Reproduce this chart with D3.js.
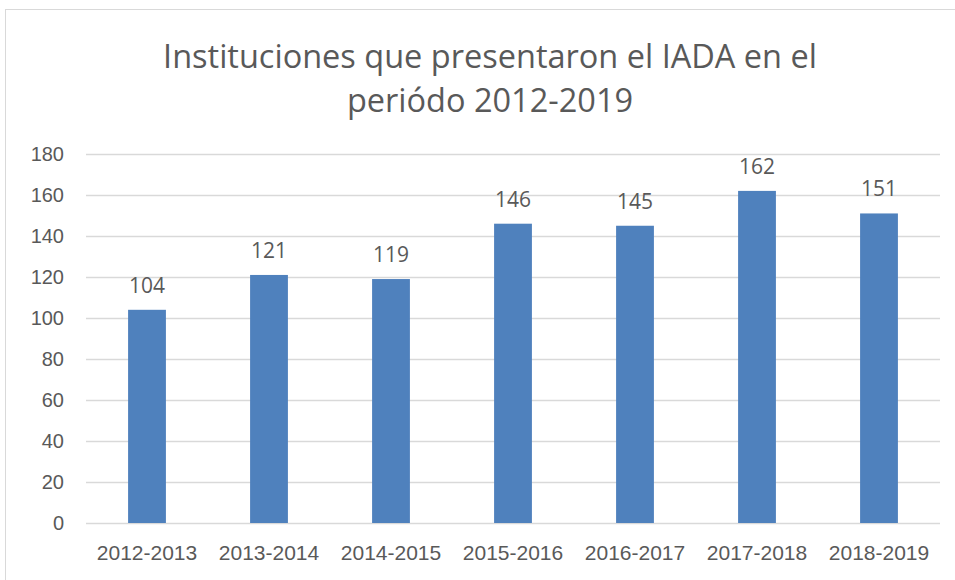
<!DOCTYPE html>
<html lang="es">
<head>
<meta charset="UTF-8">
<title>Instituciones que presentaron el IADA</title>
<script src="https://d3js.org/d3.v7.min.js"></script>
<style>
  body { margin: 0; background: #fff; font-family: "Open Sans", Arial, sans-serif; }
  svg text { fill: #595959; }
</style>
</head>
<body>
<svg width="955" height="580"></svg>
<script>
// datos
const periodos = ["2012-2013", "2013-2014", "2014-2015", "2015-2016", "2016-2017", "2017-2018", "2018-2019"];
const instituciones = [104, 121, 119, 146, 145, 162, 151];
const ticksY = [0, 20, 40, 60, 80, 100, 120, 140, 160, 180];

const svg = d3.select("svg");
const margin = { top: 154, right: 15, bottom: 57, left: 86 };
const width = 955 - margin.left - margin.right;
const height = 580 - margin.top - margin.bottom;

// marco del gráfico
svg.append("rect")
  .attr("x", 5.5).attr("y", 9.5)
  .attr("width", 960).attr("height", 600)
  .attr("fill", "none").attr("stroke", "#d9d9d9");

// título
svg.append("text")
  .attr("x", 490).attr("text-anchor", "middle")
  .style("font-size", "32.5px")
  .selectAll("tspan")
  .data(["Instituciones que presentaron el IADA en el", "periódo 2012-2019"])
  .join("tspan")
  .attr("x", 490)
  .attr("y", (d, i) => 68 + i * 44)
  .text(d => d);

const g = svg.append("g").attr("transform", `translate(${margin.left},${margin.top})`);

const x = d3.scaleBand().domain(periodos).range([0, width]).paddingInner(0.69).paddingOuter(0.345);
const y = d3.scaleLinear().domain([0, 180]).range([height, 0]);

// líneas de cuadrícula
g.selectAll(".grid")
  .data(ticksY)
  .join("line")
  .attr("x1", 0).attr("x2", width)
  .attr("y1", d => Math.round(y(d)) + 0.5).attr("y2", d => Math.round(y(d)) + 0.5)
  .attr("stroke", "#d9d9d9").attr("stroke-width", 1.5);

// eje Y
const ejeY = g.append("g")
  .call(d3.axisLeft(y).tickValues(ticksY).tickSize(0).tickPadding(22));
ejeY.select(".domain").remove();
ejeY.selectAll("text").style("font-size", "20px").attr("fill", "#595959");

// eje X
const ejeX = g.append("g")
  .attr("transform", `translate(0,${height})`)
  .call(d3.axisBottom(x).tickSize(0).tickPadding(22));
ejeX.select(".domain").remove();
ejeX.selectAll("text").style("font-size", "21px").attr("fill", "#595959");

// barras
g.selectAll(".bar")
  .data(periodos)
  .join("rect")
  .attr("x", d => x(d))
  .attr("y", (d, i) => y(instituciones[i]))
  .attr("width", x.bandwidth())
  .attr("height", (d, i) => height - y(instituciones[i]))
  .attr("fill", "#4f81bd");

// etiquetas de valores
g.selectAll(".etiqueta")
  .data(periodos)
  .join("text")
  .attr("x", d => x(d) + x.bandwidth() / 2)
  .attr("y", (d, i) => y(instituciones[i]) - 17)
  .attr("text-anchor", "middle")
  .style("font-size", "21px")
  .attr("fill", "#404040")
  .text((d, i) => instituciones[i]);
</script>
</body>
</html>
